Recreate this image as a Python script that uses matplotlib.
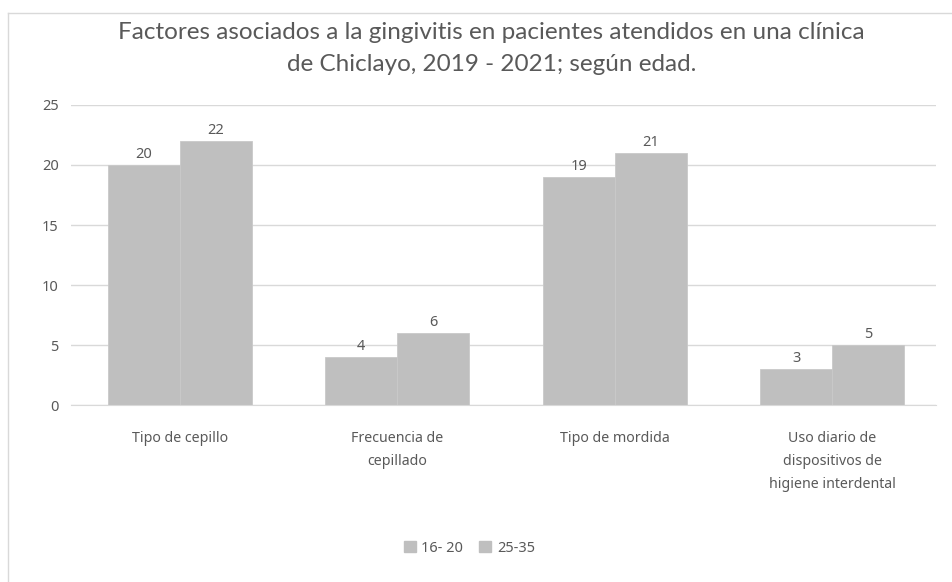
import matplotlib.pyplot as plt
import numpy as np
from matplotlib.patches import Patch

categorias = ["Tipo de cepillo", "Frecuencia de\ncepillado", "Tipo de mordida",
              "Uso diario de\ndispositivos de\nhigiene interdental"]
edad_16_20 = [20, 4, 19, 3]
edad_25_35 = [22, 6, 21, 5]
series = ["16- 20", "25-35"]
y_ticks = [0, 5, 10, 15, 20, 25]

gris_barra = "#bfbfbf"
gris_texto = "#595959"
gris_linea = "#d9d9d9"

plt.rcParams['font.family'] = ['Noto Sans', 'DejaVu Sans']

fig = plt.figure(figsize=(9.52, 5.82), dpi=100)
ax = fig.add_axes([0.0746, 0.3041, 0.9084, 0.5155])

x = np.arange(len(categorias))
w = 0.331
b1 = ax.bar(x - w / 2, edad_16_20, w, color=gris_barra, edgecolor="#c9c9c9", linewidth=0.6)
b2 = ax.bar(x + w / 2, edad_25_35, w, color=gris_barra, edgecolor="#c9c9c9", linewidth=0.6)
for bars in (b1, b2):
    ax.bar_label(bars, padding=2, fontsize=10.5, color=gris_texto)

ax.set_xlim(-0.5, 3.477)
ax.set_ylim(0, 25)
ax.set_yticks(y_ticks)
ax.set_xticks(x)
ax.set_xticklabels(categorias, fontsize=10.2, color=gris_texto, linespacing=1.72)
ax.tick_params(axis="y", labelsize=10.5, labelcolor=gris_texto, length=0, pad=9)
ax.tick_params(axis="x", length=0, pad=19)
ax.grid(axis="y", color=gris_linea, linewidth=1)
ax.set_axisbelow(True)
for s in ["top", "right", "left"]:
    ax.spines[s].set_visible(False)
ax.spines["bottom"].set_color(gris_linea)

fig.text(0.516, 0.917, "Factores asociados a la gingivitis en pacientes atendidos en una clínica\nde Chiclayo, 2019 - 2021; según edad.",
         ha="center", va="center", fontsize=17.5, color=gris_texto, family=['Lato', 'DejaVu Sans'],
         linespacing=1.65)

handles = [Patch(color=gris_barra, label=s) for s in series]
fig.legend(handles=handles, loc="center", bbox_to_anchor=(0.493, 0.058), ncol=2, frameon=False,
           fontsize=10.5, labelcolor=gris_texto, handlelength=0.8, handleheight=0.8,
           handletextpad=0.4, columnspacing=1.1)

# borde parcial del área del gráfico
fig.add_artist(plt.Line2D([0.0084, 1.0], [0.977, 0.977], color=gris_linea, linewidth=1))
fig.add_artist(plt.Line2D([0.0084, 0.0084], [0.0, 0.977], color=gris_linea, linewidth=1))

fig.savefig("out.png", dpi=100)
